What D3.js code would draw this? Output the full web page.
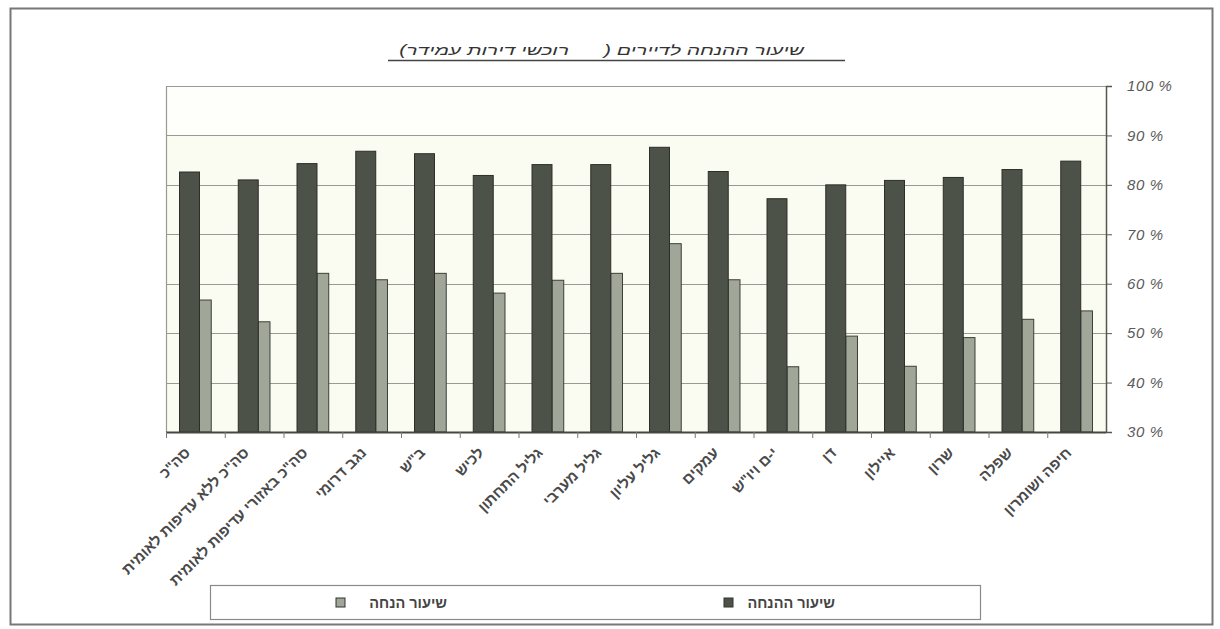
<!DOCTYPE html>
<html lang="he">
<head>
<meta charset="utf-8">
<script src="https://cdn.jsdelivr.net/npm/d3@7"></script>
<style>
  html, body { margin: 0; padding: 0; background: #fff; }
  svg { display: block; font-family: "Liberation Sans", "DejaVu Sans", Arial, sans-serif; }
  .keep-spaces { white-space: pre; }
</style>
</head>
<body>
<svg id="chart" width="1220" height="629"></svg>
<script>
// Regions, left to right along the category axis
const categories = [
  'סה"כ',
  'סה"כ ללא עדיפות לאומית',
  'סה"כ באזורי עדיפות לאומית',
  'נגב דרומי',
  'ב"ש',
  'לכיש',
  'גליל התחתון',
  'גליל מערבי',
  'גליל עליון',
  'עמקים',
  'י-ם ויו"ש',
  'דן',
  'איילון',
  'שרון',
  'שפלה',
  'חיפה ושומרון'
];

// Dark series (percent)
const darkValues = [82.6, 81.0, 84.3, 86.8, 86.3, 81.9, 84.1, 84.1, 87.6, 82.7, 77.2, 80.0, 80.9, 81.5, 83.1, 84.8];
// Light series (percent)
const lightValues = [56.7, 52.3, 62.1, 60.8, 62.1, 58.1, 60.7, 62.1, 68.1, 60.8, 43.2, 49.4, 43.3, 49.1, 52.8, 54.5];

const yTicks = [30, 40, 50, 60, 70, 80, 90, 100];
const seriesNames = ['שיעור הנחה', 'שיעור ההנחה'];
const titleText = 'שיעור ההנחה לדיירים (      רוכשי דירות עמידר)';

const svg = d3.select('#chart');
const plot = { left: 166, right: 1106, top: 86, bottom: 432 };

// Outer frame
svg.append('rect')
  .attr('x', 10.5).attr('y', 8.5)
  .attr('width', 1202).attr('height', 616)
  .attr('fill', '#fff').attr('stroke', '#777').attr('stroke-width', 2);

const x = d3.scaleBand().domain(categories).range([plot.left, plot.right]).padding(0);
const y = d3.scaleLinear().domain([30, 100]).range([plot.bottom, plot.top]);

// Plot background
svg.append('rect')
  .attr('x', plot.left).attr('y', plot.top)
  .attr('width', plot.right - plot.left).attr('height', plot.bottom - plot.top)
  .attr('fill', '#fbfcf1');
svg.append('rect')
  .attr('x', plot.left).attr('y', y(100))
  .attr('width', plot.right - plot.left).attr('height', y(90) - y(100))
  .attr('fill', '#fefefb');

// Horizontal gridlines
svg.append('g')
  .selectAll('line')
  .data(yTicks.filter(t => t > 30))
  .join('line')
  .attr('x1', plot.left).attr('x2', plot.right)
  .attr('y1', d => Math.round(y(d)) + 0.5).attr('y2', d => Math.round(y(d)) + 0.5)
  .attr('stroke', '#9a9a94').attr('stroke-width', 1.2);

// Left border of plot area
svg.append('line')
  .attr('x1', plot.left + 0.5).attr('x2', plot.left + 0.5)
  .attr('y1', plot.top).attr('y2', plot.bottom)
  .attr('stroke', '#9a9a94').attr('stroke-width', 1.2);

const bw = x.bandwidth();

// Light bars
svg.append('g')
  .selectAll('rect')
  .data(categories)
  .join('rect')
  .attr('x', (d) => x(d) + bw * 0.57)
  .attr('width', bw * 0.2)
  .attr('y', (d, i) => y(lightValues[i]))
  .attr('height', (d, i) => y(30) - y(lightValues[i]))
  .attr('fill', '#a0a799')
  .attr('stroke', '#3c3f38').attr('stroke-width', 1);

// Dark bars
svg.append('g')
  .selectAll('rect')
  .data(categories)
  .join('rect')
  .attr('x', (d) => x(d) + bw * 0.23)
  .attr('width', bw * 0.34)
  .attr('y', (d, i) => y(darkValues[i]))
  .attr('height', (d, i) => y(30) - y(darkValues[i]))
  .attr('fill', '#4d5248')
  .attr('stroke', '#2c2e29').attr('stroke-width', 1);

// Right value axis
const yAxis = d3.axisRight(y)
  .tickValues(yTicks)
  .tickSize(6)
  .tickFormat(d => d + ' %');
const gy = svg.append('g')
  .attr('transform', `translate(${plot.right},0)`)
  .call(yAxis);
gy.select('.domain').attr('stroke', '#55574f').attr('stroke-width', 1.5);
gy.selectAll('.tick line').attr('stroke', '#55574f');
gy.selectAll('.tick text')
  .attr('x', 21)
  .attr('fill', '#5a5a5a')
  .attr('font-family', '"Liberation Sans", Arial, sans-serif')
  .attr('font-size', 15)
  .attr('letter-spacing', 0.6)
  .attr('font-style', 'italic');

// Bottom category axis with ticks between categories
svg.append('line')
  .attr('x1', plot.left).attr('x2', plot.right)
  .attr('y1', plot.bottom + 0.5).attr('y2', plot.bottom + 0.5)
  .attr('stroke', '#45473f').attr('stroke-width', 2);
svg.append('g')
  .selectAll('line')
  .data(categories)
  .join('line')
  .attr('x1', d => x(d) + 0.5).attr('x2', d => x(d) + 0.5)
  .attr('y1', plot.bottom).attr('y2', plot.bottom + 6)
  .attr('stroke', '#777');

// Category labels, rotated
svg.append('g')
  .selectAll('text')
  .data(categories)
  .join('text')
  .attr('transform', d => `translate(${x(d) + bw / 2 - 8},${plot.bottom + 18}) rotate(-45)`)
  .attr('direction', 'rtl')
  .attr('text-anchor', 'start')
  .attr('dy', '0.35em')
  .attr('font-size', 15)
  .attr('font-weight', 'bold')
  .attr('fill', '#4a4a4a')
  .text(d => d);

// Title (wide lettering)
svg.append('text')
  .attr('class', 'keep-spaces')
  .attr('transform', 'translate(804,55) scale(1.5,1)')
  .attr('direction', 'rtl')
  .attr('text-anchor', 'start')
  .attr('font-size', 14)
  .attr('font-style', 'italic')
  .attr('fill', '#333')
  .text(titleText);
svg.append('line')
  .attr('x1', 388).attr('x2', 845)
  .attr('y1', 60.5).attr('y2', 60.5)
  .attr('stroke', '#444').attr('stroke-width', 1.3);

// Legend
const legend = svg.append('g');
legend.append('rect')
  .attr('x', 210.5).attr('y', 585.5)
  .attr('width', 770).attr('height', 34)
  .attr('fill', '#fff').attr('stroke', '#8a8a8a').attr('stroke-width', 1.2);
const legendItems = [
  { name: seriesNames[0], fill: '#a0a799', sx: 336 },
  { name: seriesNames[1], fill: '#4d5248', sx: 724 }
];
const li = legend.selectAll('g.item')
  .data(legendItems)
  .join('g')
  .attr('class', 'item');
li.append('rect')
  .attr('x', d => d.sx).attr('y', 598)
  .attr('width', 9).attr('height', 9)
  .attr('fill', d => d.fill).attr('stroke', '#333');
li.append('text')
  .attr('x', d => d.sx + 111).attr('y', 608)
  .attr('direction', 'rtl')
  .attr('text-anchor', 'start')
  .attr('font-size', 14.5)
  .attr('font-weight', 'bold')
  .attr('fill', '#444')
  .text(d => d.name);
</script>
</body>
</html>
